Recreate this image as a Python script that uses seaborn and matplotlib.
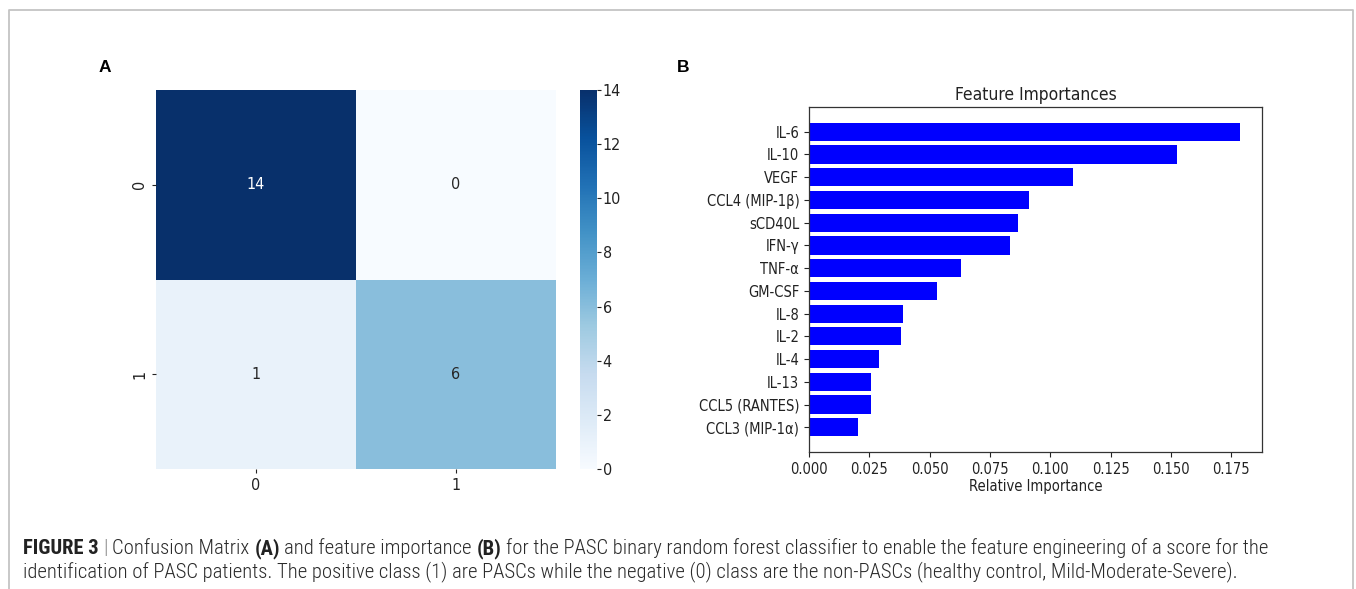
import matplotlib
matplotlib.use("Agg")
import matplotlib.pyplot as plt
from matplotlib import font_manager
from matplotlib.lines import Line2D
import numpy as np
import pandas as pd
import seaborn as sns

# ---------------- data ----------------
cm_labels = ["0", "1"]
cm_row0 = [14, 0]
cm_row1 = [1, 6]
cbar_ticks = [0, 2, 4, 6, 8, 10, 12, 14]

features = ["IL-6", "IL-10", "VEGF", "CCL4 (MIP-1β)", "sCD40L", "IFN-γ", "TNF-α",
            "GM-CSF", "IL-8", "IL-2", "IL-4", "IL-13", "CCL5 (RANTES)", "CCL3 (MIP-1α)"]
importances = [0.1788, 0.1524, 0.1093, 0.0912, 0.0866, 0.0831, 0.0630,
               0.0530, 0.0389, 0.0382, 0.0292, 0.0259, 0.0258, 0.0203]
x_ticks = [0.000, 0.025, 0.050, 0.075, 0.100, 0.125, 0.150, 0.175]

caption_line1 = [("FIGURE 3", "bold", "#222222"), ("|", "light", "#888888"),
                 ("Confusion Matrix", "light", "#2a2a2a"), ("(A)", "bold", "#222222"),
                 ("and feature importance", "light", "#2a2a2a"), ("(B)", "bold", "#222222"),
                 ("for the PASC binary random forest classifier to enable the feature engineering of a score for the",
                  "light", "#2a2a2a")]
caption_line2 = [("identification of PASC patients. The positive class (1) are PASCs while the negative (0) class are the non-PASCs (healthy control, Mild-Moderate-Severe).",
                  "light", "#2a2a2a")]

# ---------------- fonts ----------------
available = {f.name for f in font_manager.fontManager.ttflist}
cap_family = "Liberation Sans"
for cand in ["Liberation Sans Narrow", "Roboto Condensed", "Arial Narrow", "Nimbus Sans Narrow"]:
    if cand in available:
        cap_family = cand
        break

W, H = 1356, 589
fig = plt.figure(figsize=(W / 100, H / 100), dpi=100)
fig.patch.set_facecolor("white")

def ax_rect(x0, y0, x1, y1):
    return [x0 / W, 1 - y1 / H, (x1 - x0) / W, (y1 - y0) / H]

tick_col = "#222222"

# ---------------- panel A: heatmap ----------------
ax1 = fig.add_axes(ax_rect(156, 90, 556, 469))
cax = fig.add_axes(ax_rect(580, 90, 597, 469))
cm_df = pd.DataFrame([cm_row0, cm_row1], index=cm_labels, columns=cm_labels)
sns.heatmap(cm_df, annot=True, fmt="d", cmap="Blues", ax=ax1, cbar_ax=cax,
            vmin=0, vmax=14)
for t in ax1.texts:
    t.set_fontsize(11.5)
    t.set_fontstretch("condensed")
    t.set_family("DejaVu Sans")
cax.set_yticks(cbar_ticks)
cax.set_yticklabels([str(t) for t in cbar_ticks])
for lab in cax.get_yticklabels():
    lab.set_fontsize(11.5)
    lab.set_fontstretch("condensed")
    lab.set_color(tick_col)
cax.tick_params(length=3, pad=1, colors=tick_col)
ax1.set_xticklabels(cm_labels, fontsize=11.5, color=tick_col, stretch="condensed")
ax1.set_yticklabels(cm_labels, fontsize=11.5, color=tick_col, rotation=90, va="center",
                    stretch="condensed")
ax1.tick_params(length=3, colors=tick_col)

# ---------------- panel B: bar chart ----------------
ax2 = fig.add_axes(ax_rect(809, 107, 1262, 452))
bar_df = pd.DataFrame({"feature": features, "importance": importances})
sns.barplot(data=bar_df, x="importance", y="feature", orient="h", color="#0000ff",
            saturation=1, width=0.8, ax=ax2, edgecolor="none")
n = len(features)
ax2.set_ylim(n - 1 + 1.09, -1.09)
ax2.set_xlim(0, max(importances) * 1.05)
ax2.set_xticks(x_ticks)
ax2.set_xticklabels([f"{t:.3f}" for t in x_ticks])
ax2.set_ylabel("")
ax2.set_xlabel("Relative Importance", fontsize=10.5, color=tick_col, stretch="condensed", labelpad=2)
ax2.set_title("Feature Importances", fontsize=12.5, color=tick_col, stretch="condensed", pad=5)
for lab in ax2.get_xticklabels() + ax2.get_yticklabels():
    lab.set_fontsize(10.5)
    lab.set_fontstretch("condensed")
    lab.set_color(tick_col)
ax2.tick_params(length=3.5, colors=tick_col)
for s in ax2.spines.values():
    s.set_visible(True)
    s.set_color("#333333")
    s.set_linewidth(0.9)

# ---------------- panel letters ----------------
fig.text(105 / W, 1 - 67 / H, "A", fontsize=12.5, fontweight="bold", family="Liberation Sans",
         ha="center", va="center", color="black")
fig.text(683 / W, 1 - 67 / H, "B", fontsize=12.5, fontweight="bold", family="Liberation Sans",
         ha="center", va="center", color="black")

# ---------------- outer frame ----------------
fig.add_artist(Line2D([8.5 / W, 8.5 / W, 1352.5 / W, 1352.5 / W], [0, 1 - 10 / H, 1 - 10 / H, 0],
                      transform=fig.transFigure, color="#c4c4c4", lw=1.3))

# ---------------- caption ----------------
renderer = fig.canvas.get_renderer()

def measure(txt, size, weight):
    t = fig.text(0, 0, txt, fontsize=size, fontweight=weight, family=cap_family)
    w = t.get_window_extent(renderer).width
    t.remove()
    return w

def draw_line(pieces, x_px, y_px, size):
    sp = measure("a a", size, "light") - measure("aa", size, "light")
    x = x_px
    artists = []
    for txt, weight, col in pieces:
        t = fig.text(x / W, 1 - y_px / H, txt, fontsize=size, fontweight=weight,
                     family=cap_family, color=col, ha="left", va="baseline")
        artists.append(t)
        x += t.get_window_extent(renderer).width + sp
    return artists, x - sp

x0_cap, x1_cap = 23, 1272
size = 12.0
for _ in range(4):
    arts, end = draw_line(caption_line1, x0_cap, 554, size)
    for a in arts:
        a.remove()
    size *= (x1_cap - x0_cap) / (end - x0_cap)

draw_line(caption_line1, x0_cap, 554, size)
draw_line(caption_line2, x0_cap, 577, size)

fig.savefig("out.png", dpi=100, facecolor="white")
